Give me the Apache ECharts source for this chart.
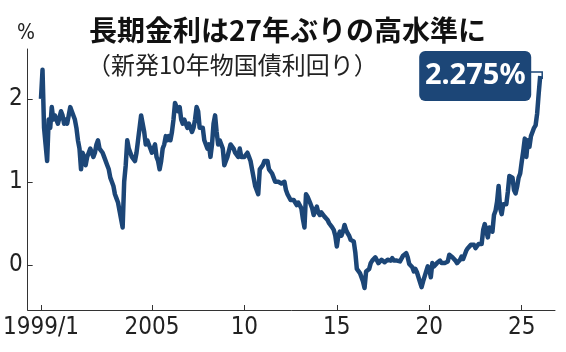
<!DOCTYPE html>
<html lang="ja">
<head>
<meta charset="utf-8">
<title>長期金利</title>
<script src="https://cdn.jsdelivr.net/npm/echarts@6/dist/echarts.min.js"></script>
<style>
  html, body { margin: 0; padding: 0; background: #fff; }
  #main { width: 566px; height: 352px; }
</style>
</head>
<body>
<div id="main"></div>
<script>
// monthly yields (%), starting 1999/1
var startYear = 1999;
var yields1999to2004 = [
  2.0, 2.35, 1.65, 1.45, 1.25, 1.75, 1.65, 1.9, 1.75, 1.8, 1.8, 1.7,
  1.7, 1.85, 1.8, 1.7, 1.75, 1.7, 1.8, 1.9, 1.85, 1.85, 1.75, 1.65,
  1.5, 1.4, 1.15, 1.35, 1.3, 1.2, 1.3, 1.35, 1.4, 1.35, 1.3, 1.35,
  1.45, 1.5, 1.4, 1.4, 1.35, 1.3, 1.3, 1.2, 1.15, 1.05, 1.0, 0.95,
  0.85, 0.8, 0.75, 0.65, 0.55, 0.45, 1.0, 1.2, 1.5, 1.4, 1.35, 1.3,
  1.3, 1.25, 1.35, 1.5, 1.5, 1.8, 1.8, 1.6, 1.45, 1.5, 1.45, 1.4
];
var yields2005to2010 = [
  1.35, 1.4, 1.45, 1.3, 1.25, 1.15, 1.25, 1.4, 1.45, 1.55, 1.5, 1.55,
  1.5, 1.6, 1.75, 1.95, 1.9, 1.85, 1.9, 1.75, 1.7, 1.75, 1.7, 1.65,
  1.7, 1.7, 1.6, 1.65, 1.75, 1.9, 1.85, 1.65, 1.65, 1.65, 1.5, 1.5,
  1.4, 1.45, 1.3, 1.45, 1.7, 1.8, 1.6, 1.45, 1.5, 1.5, 1.4, 1.2,
  1.25, 1.3, 1.3, 1.45, 1.45, 1.4, 1.35, 1.35, 1.3, 1.4, 1.3, 1.3,
  1.3, 1.3, 1.35, 1.3, 1.25, 1.15, 1.05, 0.95, 0.95, 0.85, 1.15, 1.15
];
var yields2011to2016 = [
  1.2, 1.25, 1.25, 1.25, 1.15, 1.15, 1.1, 1.05, 1.0, 1.0, 1.0, 1.0,
  0.98, 0.97, 1.0, 0.9, 0.85, 0.84, 0.78, 0.8, 0.78, 0.77, 0.72, 0.75,
  0.75, 0.68, 0.55, 0.45, 0.85, 0.82, 0.8, 0.73, 0.68, 0.6, 0.62, 0.7,
  0.63, 0.6, 0.63, 0.61, 0.58, 0.57, 0.54, 0.5, 0.52, 0.45, 0.42, 0.35,
  0.22, 0.35, 0.4, 0.35, 0.4, 0.48, 0.42, 0.38, 0.35, 0.3, 0.3, 0.28,
  0.15, -0.05, -0.05, -0.1, -0.12, -0.2, -0.28, -0.08, -0.06, -0.05, 0.02, 0.05
];
var yields2017to2022 = [
  0.06, 0.09, 0.07, 0.02, 0.04, 0.06, 0.08, 0.03, 0.04, 0.06, 0.04, 0.05,
  0.08, 0.05, 0.04, 0.05, 0.04, 0.04, 0.06, 0.11, 0.13, 0.14, 0.09, 0.01,
  0.0, -0.03, -0.08, -0.05, -0.09, -0.15, -0.15, -0.27, -0.2, -0.14, -0.08, -0.02,
  -0.05, -0.15, 0.02, -0.02, 0.0, 0.02, 0.02, 0.05, 0.02, 0.04, 0.02, 0.02,
  0.04, 0.12, 0.1, 0.09, 0.08, 0.05, 0.02, 0.02, 0.06, 0.1, 0.07, 0.07,
  0.17, 0.2, 0.22, 0.24, 0.24, 0.24, 0.2, 0.22, 0.25, 0.25, 0.25, 0.42
];
var yields2023to2026 = [
  0.49, 0.5, 0.33, 0.45, 0.43, 0.4, 0.6, 0.65, 0.76, 0.95, 0.68, 0.61,
  0.73, 0.71, 0.73, 0.88, 1.07, 1.05, 1.05, 0.9, 0.86, 0.94, 1.05, 1.1,
  1.24, 1.37, 1.52, 1.3, 1.5, 1.42, 1.55, 1.6, 1.65, 1.68, 1.82, 2.06,
  2.275
];

var tickYears = [1999, 2005, 2010, 2015, 2020, 2025];
var tickLabels = ['1999/1', '2005', '10', '15', '20', '25'];
var yTicks = [0, 1, 2];
var lastLabel = '2.275%';

var navy = '#1c4677';
var labelFont = '"Liberation Sans Narrow", "DejaVu Sans Condensed", "Noto Sans", sans-serif';
var jpFont = '"Noto Sans CJK JP", "Noto Sans", sans-serif';

var allYields = [].concat(yields1999to2004, yields2005to2010, yields2011to2016, yields2017to2022, yields2023to2026);
var seriesData = allYields.map(function (v, i) {
  return [startYear + i / 12, v];
});

var chart = echarts.init(document.getElementById('main'));
chart.setOption({
  animation: false,
  backgroundColor: '#fff',
  title: [{
    text: '長期金利は27年ぶりの高水準に',
    left: 84, top: 11,
    textStyle: { fontFamily: jpFont, fontSize: 28, fontWeight: 'bold', color: '#111' }
  }, {
    text: '（新発10年物国債利回り）',
    left: 82, top: 48,
    textStyle: { fontFamily: jpFont, fontSize: 24, fontWeight: 'normal', color: '#222' }
  }, {
    text: '%',
    left: 12, top: 18,
    textStyle: { fontFamily: labelFont, fontSize: 21, fontWeight: 'normal', color: '#222' }
  }],
  grid: { left: 27, right: 11, top: 49, bottom: 42 },
  xAxis: {
    type: 'value',
    min: 1998.28,
    max: 2026.8,
    splitLine: { show: false },
    axisLine: { show: true, onZero: false, lineStyle: { color: '#333', width: 1 } },
    axisTick: { show: true, inside: true, length: 5, customValues: tickYears, lineStyle: { color: '#333' } },
    axisLabel: {
      customValues: tickYears,
      margin: 6,
      fontFamily: labelFont, fontSize: 24, color: '#222',
      formatter: function (v) { return tickLabels[tickYears.indexOf(v)]; }
    }
  },
  yAxis: {
    type: 'value',
    min: -0.545,
    max: 2.6,
    splitLine: { show: false },
    axisLine: { show: true, onZero: false, lineStyle: { color: '#333', width: 1 } },
    axisTick: { show: true, inside: true, length: 5, customValues: yTicks, lineStyle: { color: '#333' } },
    axisLabel: {
      customValues: yTicks,
      margin: 5,
      fontFamily: labelFont, fontSize: 24, color: '#222'
    }
  },
  series: [{
    type: 'line',
    data: seriesData,
    showSymbol: false,
    lineStyle: { color: navy, width: 4.5, join: 'round' },
    z: 3
  }]
});

// callout box for the last value
var last = seriesData[seriesData.length - 1];
var p = chart.convertToPixel({ seriesIndex: 0 }, last);
var boxW = 112, boxH = 50;
var boxX = p[0] - 121, boxY = p[1] - 25;
chart.setOption({
  graphic: [{
    type: 'polyline',
    shape: { points: [[boxX + boxW - 2, p[1] - 4], [p[0] + 2, p[1] - 4], [p[0] + 2, p[1] + 3]] },
    style: { stroke: navy, lineWidth: 1.5, fill: null },
    z: 10
  }, {
    type: 'rect',
    shape: { x: boxX, y: boxY, width: boxW, height: boxH, r: 6 },
    style: { fill: navy },
    z: 11
  }, {
    type: 'text',
    x: boxX + boxW / 2, y: boxY + boxH / 2,
    style: {
      text: lastLabel,
      fill: '#fff',
      font: 'bold 29px "Noto Sans", "Open Sans", sans-serif',
      align: 'center', verticalAlign: 'middle'
    },
    z: 12
  }]
});
</script>
</body>
</html>
